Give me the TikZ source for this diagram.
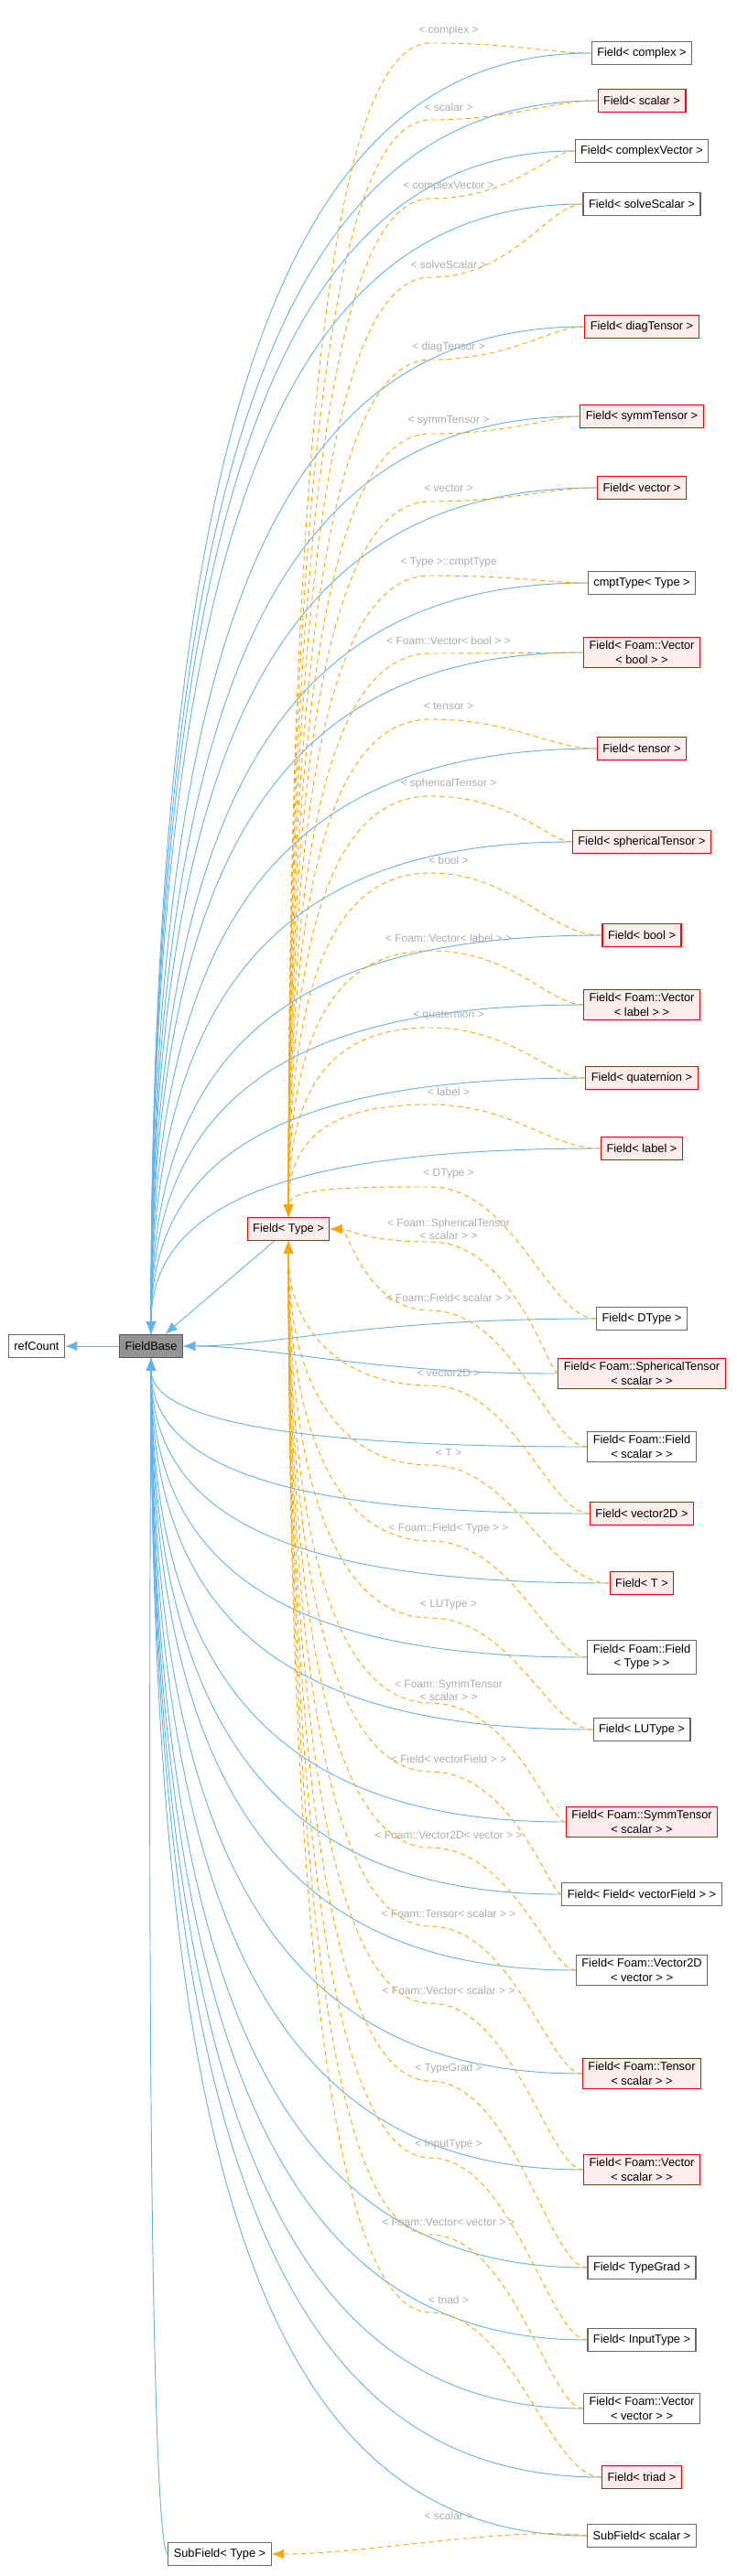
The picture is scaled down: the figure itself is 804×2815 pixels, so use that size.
\documentclass[tikz,border=0pt]{standalone}
\usepackage{fontspec}
\setmainfont{Liberation Sans}
\usetikzlibrary{arrows.meta}
\definecolor{edgeBlue}{RGB}{99,179,237}
\definecolor{edgeOrange}{RGB}{255,165,0}
\begin{document}
\begin{tikzpicture}
        [x=0.75pt, y=-0.75pt,
        node/.style={rectangle, draw=gray!80!black, fill=white, font=\fontsize{9.6}{11.5}\selectfont, minimum height=19pt, inner xsep=4.5pt, align=center, line width=0.8pt},
        nodeRed/.style={node, draw=red, fill=red!7},
        nodeGray/.style={node, draw=gray!70!black, fill=gray!85},
        lbl/.style={font=\fontsize{9}{10.5}\selectfont, text=gray!65, align=center, inner sep=1pt},
        inh/.style={draw=edgeBlue, line width=0.7pt, -{Latex[length=10pt,width=8pt]}},
        dep/.style={draw=edgeOrange, line width=0.7pt, dash pattern=on 4pt off 3pt, -{Latex[length=10pt,width=8pt]}}]
        \useasboundingbox (0,0) rectangle (804,2815);
        \node[nodeGray] (FB) at (165,1471) {FieldBase};
        \node[node] (RC) at (40,1471) {refCount};
        \node[nodeRed] (FT) at (315,1343) {Field\textless{} Type \textgreater};
        \node[node] (ST) at (240,2791) {SubField\textless{} Type \textgreater};
        \node[node] (SS) at (701,2771) {SubField\textless{} scalar \textgreater};
        \draw[inh] (FB) -- (RC);
        \draw[inh] (FT) -- (FB);
        \draw[inh] (SS.west) .. controls (300,2771) and (165,2400) .. (FB.south);
        \draw[inh] (ST.west) .. controls (170,2791) and (160,2400) .. (FB.south);
        \node[lbl] (Lss) at (490,2749) {\textless{} scalar \textgreater};
        \draw[dep] (SS.west) .. controls (560,2760) and (400,2791) .. (ST.east);
        % specialisations of Field< Type >
        \foreach \i/\y/\st/\txt/\ly/\ltxt in {
            1/58/node/{Field\textless{} complex \textgreater}/33/{\textless{} complex \textgreater},
            2/110/nodeRed/{Field\textless{} scalar \textgreater}/117/{\textless{} scalar \textgreater},
            3/165/node/{Field\textless{} complexVector \textgreater}/203/{\textless{} complexVector \textgreater},
            4/223/node/{Field\textless{} solveScalar \textgreater}/289/{\textless{} solveScalar \textgreater},
            5/357/nodeRed/{Field\textless{} diagTensor \textgreater}/379/{\textless{} diagTensor \textgreater},
            6/455/nodeRed/{Field\textless{} symmTensor \textgreater}/460/{\textless{} symmTensor \textgreater},
            7/533/nodeRed/{Field\textless{} vector \textgreater}/534/{\textless{} vector \textgreater},
            8/637/node/{cmptType\textless{} Type \textgreater}/615/{\textless{} Type \textgreater::cmptType},
            9/713/nodeRed/{Field\textless{} Foam::Vector\\\textless{} bool \textgreater{} \textgreater}/700/{\textless{} Foam::Vector\textless{} bool \textgreater{} \textgreater},
            10/818/nodeRed/{Field\textless{} tensor \textgreater}/772/{\textless{} tensor \textgreater},
            11/920/nodeRed/{Field\textless{} sphericalTensor \textgreater}/856/{\textless{} sphericalTensor \textgreater},
            12/1022/nodeRed/{Field\textless{} bool \textgreater}/940/{\textless{} bool \textgreater},
            13/1098/nodeRed/{Field\textless{} Foam::Vector\\\textless{} label \textgreater{} \textgreater}/1025/{\textless{} Foam::Vector\textless{} label \textgreater{} \textgreater},
            14/1178/nodeRed/{Field\textless{} quaternion \textgreater}/1109/{\textless{} quaternion \textgreater},
            15/1255/nodeRed/{Field\textless{} label \textgreater}/1193/{\textless{} label \textgreater},
            16/1441/node/{Field\textless{} DType \textgreater}/1283/{\textless{} DType \textgreater},
            17/1501/nodeRed/{Field\textless{} Foam::SphericalTensor\\\textless{} scalar \textgreater{} \textgreater}/1343/{\textless{} Foam::SphericalTensor\\\textless{} scalar \textgreater{} \textgreater},
            18/1581/node/{Field\textless{} Foam::Field\\\textless{} scalar \textgreater{} \textgreater}/1418/{\textless{} Foam::Field\textless{} scalar \textgreater{} \textgreater},
            19/1654/nodeRed/{Field\textless{} vector2D \textgreater}/1500/{\textless{} vector2D \textgreater},
            20/1730/nodeRed/{Field\textless{} T \textgreater}/1587/{\textless{} T \textgreater},
            21/1811/node/{Field\textless{} Foam::Field\\\textless{} Type \textgreater{} \textgreater}/1670/{\textless{} Foam::Field\textless{} Type \textgreater{} \textgreater},
            22/1890/node/{Field\textless{} LUType \textgreater}/1754/{\textless{} LUType \textgreater},
            23/1991/nodeRed/{Field\textless{} Foam::SymmTensor\\\textless{} scalar \textgreater{} \textgreater}/1847/{\textless{} Foam::SymmTensor\\\textless{} scalar \textgreater{} \textgreater},
            24/2070/node/{Field\textless{} Field\textless{} vectorField \textgreater{} \textgreater}/1922/{\textless{} Field\textless{} vectorField \textgreater{} \textgreater},
            25/2153/node/{Field\textless{} Foam::Vector2D\\\textless{} vector \textgreater{} \textgreater}/2005/{\textless{} Foam::Vector2D\textless{} vector \textgreater{} \textgreater},
            26/2266/nodeRed/{Field\textless{} Foam::Tensor\\\textless{} scalar \textgreater{} \textgreater}/2091/{\textless{} Foam::Tensor\textless{} scalar \textgreater{} \textgreater},
            27/2371/nodeRed/{Field\textless{} Foam::Vector\\\textless{} scalar \textgreater{} \textgreater}/2175/{\textless{} Foam::Vector\textless{} scalar \textgreater{} \textgreater},
            28/2478/node/{Field\textless{} TypeGrad \textgreater}/2260/{\textless{} TypeGrad \textgreater},
            29/2557/node/{Field\textless{} InputType \textgreater}/2344/{\textless{} InputType \textgreater},
            30/2632/node/{Field\textless{} Foam::Vector\\\textless{} vector \textgreater{} \textgreater}/2428/{\textless{} Foam::Vector\textless{} vector \textgreater{} \textgreater},
            31/2707/nodeRed/{Field\textless{} triad \textgreater}/2513/{\textless{} triad \textgreater}} {
            \node[\st] (F\i) at (701,\y) {\txt};
            \node[lbl] (L\i) at (490,\ly) {\ltxt};
            \pgfmathsetmacro\by{1471+0.75*(\y-1471)}
            \pgfmathsetmacro\fy{1343+0.75*(\ly-1343)}
            \pgfmathsetmacro\cy{\ly+14}
            \coordinate (C\i) at (470,\cy);
            \ifnum\y<1400
                \draw[inh] (F\i.west) .. controls (330,\y) and (165,\by) .. (FB.north);
            \else
                \ifnum\y<1520
                    \draw[inh] (F\i.west) .. controls (400,\y) and (300,1471) .. (FB.east);
                \else
                    \draw[inh] (F\i.west) .. controls (330,\y) and (165,\by) .. (FB.south);
                \fi
            \fi
            \ifnum\ly<1330
                \draw[dep] (F\i.west) .. controls (600,\y) and (560,\cy) .. (C\i) .. controls (380,\cy) and (315,\fy) .. (FT.north);
            \else
                \ifnum\ly<1420
                    \draw[dep] (F\i.west) .. controls (600,\y) and (560,\cy) .. (C\i) .. controls (400,\cy) and (380,1343) .. (FT.east);
                \else
                    \draw[dep] (F\i.west) .. controls (600,\y) and (560,\cy) .. (C\i) .. controls (380,\cy) and (315,\fy) .. (FT.south);
                \fi
            \fi
        }
    \end{tikzpicture}
\end{document}
